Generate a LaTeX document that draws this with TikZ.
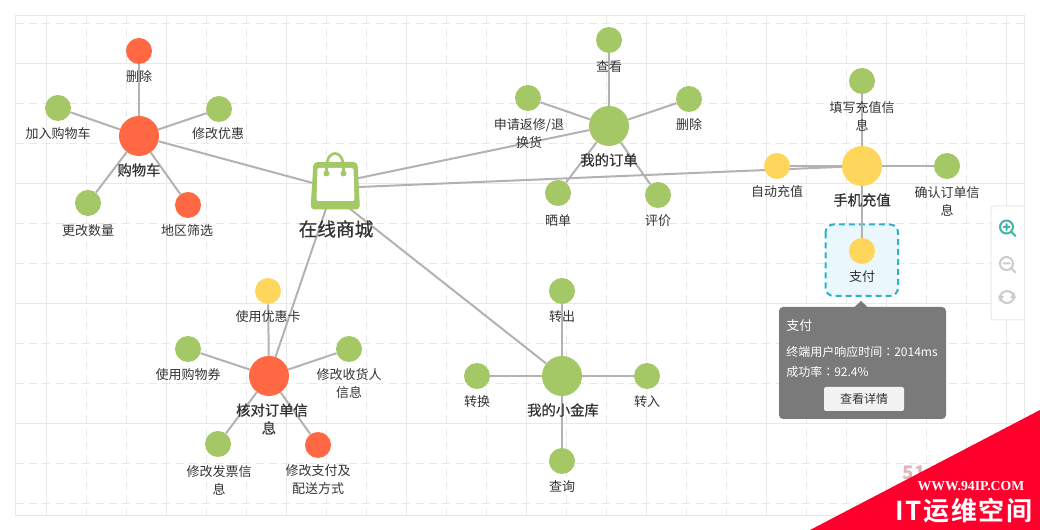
\documentclass[tikz,border=0pt]{standalone}
\usepackage{fontspec}
\setmainfont{Noto Sans CJK SC}
\newfontfamily\wmfont{Liberation Serif}
\newfontfamily\tcfont{Noto Sans CJK TC}
\newfontfamily\semifont[FakeBold=0.7]{Noto Sans CJK SC}
\newfontfamily\stampfont[LetterSpace=6]{Noto Sans CJK SC Bold}
\usetikzlibrary{backgrounds,calc}
\definecolor{cgreen}{HTML}{A5C866}
\definecolor{cred}{HTML}{FF6843}
\definecolor{cyellow}{HTML}{FFD65C}
\definecolor{edgec}{HTML}{B2B2B2}
\definecolor{gridc}{HTML}{E8E8E8}
\definecolor{txt}{HTML}{333333}
\definecolor{teal2}{HTML}{3FB5A8}
\definecolor{iconc}{HTML}{CCCCCC}
\definecolor{stampc}{HTML}{E3B3BD}
\tikzset{
  x=.75pt,y=-.75pt,
  big/.style={circle,inner sep=0pt,minimum size=30pt},
  small/.style={circle,inner sep=0pt,minimum size=19.5pt},
  lab/.style={inner sep=0pt,align=center,text=txt,yshift=-.75pt,font=\fontsize{9.75}{13.5}\selectfont},
  blab/.style={inner sep=0pt,align=center,text=txt,yshift=-.75pt,font=\semifont\fontsize{10.75}{13.5}\selectfont},
  tip/.style={inner sep=0pt,anchor=west,text=white,font=\fontsize{9}{12}\selectfont},
  link/.style={draw=edgec,line width=1.5pt},
  solidgrid/.style={draw=gridc,line width=.75pt},
  dashgrid/.style={draw=gridc,line width=.75pt,dash pattern=on 6pt off 4pt},
  icon/.style={line width=1.5pt,line cap=round},
}
\begin{document}
\begin{tikzpicture}
\useasboundingbox (0,0) rectangle (1040,530);
% ---- nodes
\node[big,fill=cred] (cart) at (139,136) {};
\node[small,fill=cred] (c1) at (139,51) {};
\node[small,fill=cgreen] (c2) at (58,108) {};
\node[small,fill=cgreen] (c3) at (219,109) {};
\node[small,fill=cgreen] (c4) at (88,203) {};
\node[small,fill=cred] (c5) at (188,205) {};
\node[lab] (lc1) at (139,76) {删除};
\node[lab] (lc2) at (58,133) {加入购物车};
\node[lab] (lc3) at (218,133) {修改优惠};
\node[blab] (lc0) at (139,169) {购物车};
\node[lab] (lc4) at (88,230) {更改数量};
\node[lab] (lc5) at (187,230) {地区筛选};

\node[big,fill=cgreen] (order) at (609,126) {};
\node[small,fill=cgreen] (o1) at (609,40) {};
\node[small,fill=cgreen] (o2) at (528,98) {};
\node[small,fill=cgreen] (o3) at (689,99) {};
\node[small,fill=cgreen] (o4) at (558,193) {};
\node[small,fill=cgreen] (o5) at (658,195) {};
\node[lab] (lo1) at (609,66) {查看};
\node[lab] (lo2) at (529,133) {申请返修/退\\换货};
\node[lab] (lo3) at (689,124) {删除};
\node[blab] (lo0) at (609,159) {我的订单};
\node[lab] (lo4) at (558,220) {晒单};
\node[lab] (lo5) at (658,220) {评价};

\node[big,fill=cyellow] (phone) at (862,166) {};
\node[small,fill=cgreen] (p1) at (862,81) {};
\node[small,fill=cyellow] (p2) at (777,166) {};
\node[small,fill=cgreen] (p3) at (947,166) {};
\node[small,fill=cyellow] (p4) at (862,251) {};
\node[lab] (lp1) at (862,115) {填写充值信\\息};
\node[lab] (lp2) at (777,191) {自动充值};
\node[blab] (lp0) at (862,199) {手机充值};
\node[lab] (lp3) at (947,200) {确认订单信\\息};
\node[lab] (lp4) at (862,276) {支付};

\node[big,fill=cred] (check) at (269,376) {};
\node[small,fill=cyellow] (k1) at (268,291) {};
\node[small,fill=cgreen] (k2) at (188,349) {};
\node[small,fill=cgreen] (k3) at (349,349) {};
\node[small,fill=cgreen] (k4) at (218,444) {};
\node[small,fill=cred] (k5) at (318,445) {};
\node[lab] (lk1) at (268,316) {使用优惠卡};
\node[lab] (lk2) at (188,374) {使用购物券};
\node[lab] (lk3) at (349,383) {修改收货人\\信息};
\node[blab] (lk0) at (272,418) {核对订单信\\\hspace*{-4.5pt}息};
\node[lab] (lk4) at (219,479) {修改发票信\\息};
\node[lab] (lk5) at (318,479) {修改支付及\\配送方式};

\node[big,fill=cgreen] (vault) at (562,376) {};
\node[small,fill=cgreen] (v1) at (562,291) {};
\node[small,fill=cgreen] (v2) at (477,376) {};
\node[small,fill=cgreen] (v3) at (647,376) {};
\node[small,fill=cgreen] (v4) at (562,461) {};
\node[lab] (lv1) at (562,316) {转出};
\node[lab] (lv2) at (477,401) {转换};
\node[lab] (lv3) at (647,401) {转入};
\node[blab] (lv0) at (563,409) {我的小金库};
\node[lab] (lv4) at (562,486) {查询};

% ---- shopping bag: connectors end at these hidden points behind it
\coordinate (bagC) at (335,189);
\coordinate (bagO) at (335,183);
\coordinate (bagP) at (335,188);
\coordinate (bagK) at (330,197);
\coordinate (bagV) at (335,197);
\fill[cgreen,rounded corners=3pt] (313.5,162) -- (357.5,162) -- (360,209.5) -- (310.5,209.5) -- cycle;
\fill[white,rounded corners=1pt] (317.5,168) -- (353.5,168) -- (354.5,201) -- (316.5,201) -- cycle;
\draw[cgreen,line width=2pt] (326.5,173) -- (326.5,167) .. controls (327,157) and (331,153.5) .. (335,153.5) .. controls (339,153.5) and (343,157) .. (343.5,167) -- (343.5,173);
\fill[cgreen] (326.5,173.5) circle[radius=3] (343.5,173.5) circle[radius=3];
\node[inner sep=0pt,text=txt,font=\semifont\fontsize{14}{16}\selectfont] (bagl) at (336,229) {在线商城};

% ---- control panel
\draw[draw=gridc,fill=white,rounded corners=2pt,line width=.75pt] (1024,206) -- (991,206) -- (991,320) -- (1024,320);
\coordinate (zi) at (1006.5,227);
\coordinate (zo) at (1006.5,263.5);
\coordinate (rf) at (1007,297);
\draw[icon,teal2] (zi) circle[radius=6.5] ($(zi)+(5,5)$) -- ($(zi)+(9,9)$) ($(zi)+(-3,0)$) -- ($(zi)+(3,0)$) ($(zi)+(0,-3)$) -- ($(zi)+(0,3)$);
\draw[icon,iconc] (zo) circle[radius=6.5] ($(zo)+(5,5)$) -- ($(zo)+(9,9)$) ($(zo)+(-3,0)$) -- ($(zo)+(3,0)$);
\draw[icon,iconc] ($(rf)+(-7,-1)$) arc[start angle=180,end angle=360,radius=7,y radius=-7] ;
\draw[icon,iconc] ($(rf)+(7,1)$) arc[start angle=0,end angle=180,radius=7,y radius=-7];
\fill[iconc] ($(rf)+(7,-5)$) -- ($(rf)+(9,1)$) -- ($(rf)+(3,1)$) -- cycle;
\fill[iconc] ($(rf)+(-7,5)$) -- ($(rf)+(-9,-1)$) -- ($(rf)+(-3,-1)$) -- cycle;

% ---- tooltip
\fill[fill=black!52,rounded corners=3pt] (779,307) rectangle (946,419);
\fill[fill=black!52] (854,307.5) -- (861,301) -- (868,307.5) -- cycle;
\node[tip,font=\fontsize{9.75}{12}\selectfont] (t1) at (786,326) {支付};
\node[tip] (t2) at (786,352) {终端用户响应时间{\tcfont ：}2014ms};
\node[tip] (t3) at (786,372) {成功率{\tcfont ：}92.4\%};
\fill[fill=black!5,rounded corners=1.5pt] (824,387) rectangle (904,411);
\node[inner sep=0pt,text=txt,font=\fontsize{9}{12}\selectfont] (t4) at (864,399) {查看详情};

% ---- watermark
\node[inner sep=0pt,text=stampc,font=\fontsize{14}{15}\selectfont\bfseries] (w0) at (914,473) {51};
\fill[fill={rgb,255:red,255;green,0;blue,44}] (1040,410) -- (1040,530) -- (810,530) -- cycle;
\node[inner sep=0pt,text=white,font=\wmfont\fontsize{10.3}{14}\selectfont\bfseries] (w1) at (971,486) {WWW.94IP.COM};
\node[inner sep=0pt,text=white,font=\stampfont\fontsize{19.5}{22}\selectfont] (w2) at (964,511) {IT运维空间};

% ---- under everything
\begin{scope}[on background layer]
\foreach \i in {46,166,...,1006} \draw[solidgrid] (\i,15.5) -- (\i,515.5);
\foreach \i in {86,206,...,966} \draw[dashgrid] (\i,15.5) -- (\i,515.5);
\foreach \i in {126,246,...,1006} \draw[dashgrid] (\i,15.5) -- (\i,515.5);
\foreach \j in {63.5,183.5,303.5,423.5} \draw[solidgrid] (15.5,\j) -- (1024,\j);
\foreach \j in {23.5,143.5,263.5,383.5,503.5} \draw[dashgrid] (15.5,\j) -- (1024,\j);
\foreach \j in {103.5,223.5,343.5,463.5} \draw[dashgrid] (15.5,\j) -- (1024,\j);
\draw[solidgrid] (15.5,15.5) rectangle (1024,515.5);
\fill[white] (991,206) rectangle (1024,320);
\draw[draw={rgb,255:red,45;green,178;blue,200},fill={rgb,255:red,234;green,247;blue,253},line width=1.5pt,dash pattern=on 4.5pt off 3pt,rounded corners=6pt] (825.5,224.5) rectangle (898,296);
\draw[link] (cart) -- (c1);
\draw[link] (cart) -- (c2);
\draw[link] (cart) -- (c3);
\draw[link] (cart) -- (c4);
\draw[link] (cart) -- (c5);
\draw[link] (order) -- (o1);
\draw[link] (order) -- (o2);
\draw[link] (order) -- (o3);
\draw[link] (order) -- (o4);
\draw[link] (order) -- (o5);
\draw[link] (phone) -- (p1);
\draw[link] (phone) -- (p2);
\draw[link] (phone) -- (p3);
\draw[link] (phone) -- (p4);
\draw[link] (check) -- (k1);
\draw[link] (check) -- (k2);
\draw[link] (check) -- (k3);
\draw[link] (check) -- (k4);
\draw[link] (check) -- (k5);
\draw[link] (vault) -- (v1);
\draw[link] (vault) -- (v2);
\draw[link] (vault) -- (v3);
\draw[link] (vault) -- (v4);
\draw[link] (bagC) -- (cart);
\draw[link] (bagO) -- (order);
\draw[link] (bagP) -- (phone);
\draw[link] (bagK) -- (check);
\draw[link] (bagV) -- (vault);
\end{scope}
\end{tikzpicture}
\end{document}
